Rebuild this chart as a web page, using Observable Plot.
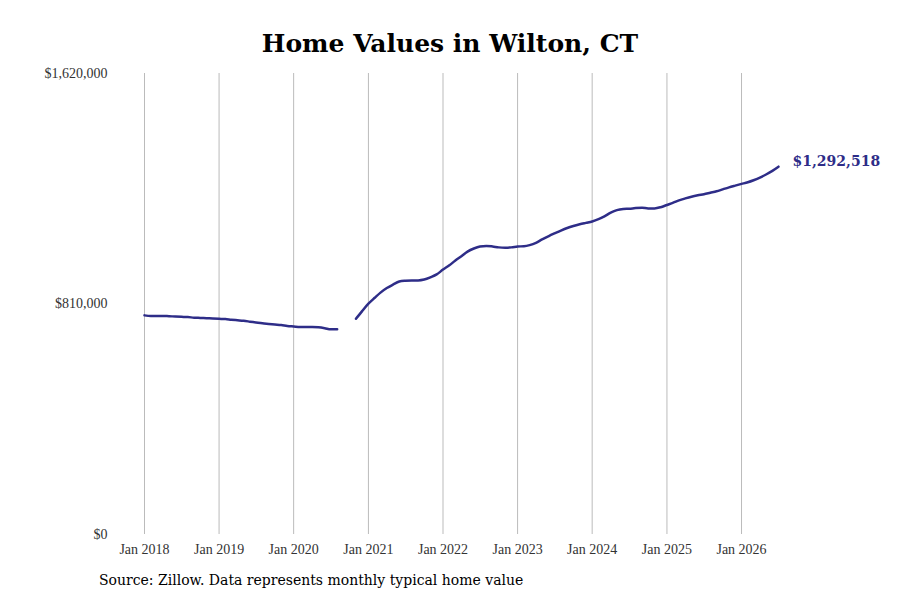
<!DOCTYPE html>
<html><head><meta charset="utf-8">
<script src="https://cdn.jsdelivr.net/npm/d3@7"></script>
<script src="https://cdn.jsdelivr.net/npm/@observablehq/plot@0.6"></script>
<style>
body{margin:0;background:#fff;font-family:"DejaVu Serif",serif;}
#title{height:65px;text-align:center;font-weight:bold;font-size:25px;line-height:88px;}
#cap{position:absolute;left:99px;top:572px;font-size:14px;}
</style></head><body>
<div id="title">Home Values in Wilton, CT</div>
<div id="chart"></div>
<div id="cap">Source: Zillow. Data represents monthly typical home value</div>
<script>
const startYear = 2018;
const valuesK = [
770,768,768,768,767,766,765,764,762,761,760,759,
758,757,755,753,751,748,745,742,740,738,736,733,
731,729,729,729,728,725,721,721,null,null,758,785,
811,832,850,866,878,889,892,893,893,896,904,914,
931,946,962,978,994,1005,1012,1014,1012,1009,1008,1009,
1012,1013,1017,1025,1037,1048,1058,1068,1077,1084,1090,1095,
1100,1108,1118,1131,1140,1144,1145,1147,1148,1146,1146,1150,
1158,1166,1174,1181,1187,1192,1196,1201,1206,1213,1220,1226,
1232,1238,1245,1254,1265,1278,1292.518
];
const yTicks = [0, 810000, 1620000];
const color = "#2e2d88";
const data = valuesK.map((v,i)=>({date:new Date(Date.UTC(startYear, i, 1)), value: v==null?null:v*1000}));
const last = data[data.length-1];
const xTicks = d3.range(2018, 2027).map(y=>new Date(Date.UTC(y,0,1)));
const fmt = d3.format("$,.0f");
const plot = Plot.plot({
  width: 900, height: 500,
  marginLeft: 144, marginRight: 122, marginTop: 8, marginBottom: 31,
  style:{fontFamily:"'Liberation Serif', serif", fontSize:"14px", color:"#333"},
  x:{type:"utc", domain:[data[0].date, last.date], ticks:xTicks, tickFormat:d3.utcFormat("%b %Y"), label:null, tickSize:0, tickPadding:10},
  y:{domain:[0,1620000], ticks:yTicks, tickFormat:fmt, label:null, tickSize:0, tickPadding:37},
  marks:[
    Plot.ruleX(xTicks, {stroke:"#bbb", strokeWidth:1}),
    Plot.line(data, {x:"date", y:"value", stroke:color, strokeWidth:2.5, curve:"monotone-x"}),
    Plot.text([last], {x:"date", y:"value", text:d=>fmt(d.value), dx:14, textAnchor:"start", fill:color, fontWeight:"bold", fontSize:14, fontFamily:"DejaVu Serif, serif", dy:-5})
  ]
});
document.getElementById("chart").appendChild(plot);
</script>
</body></html>
